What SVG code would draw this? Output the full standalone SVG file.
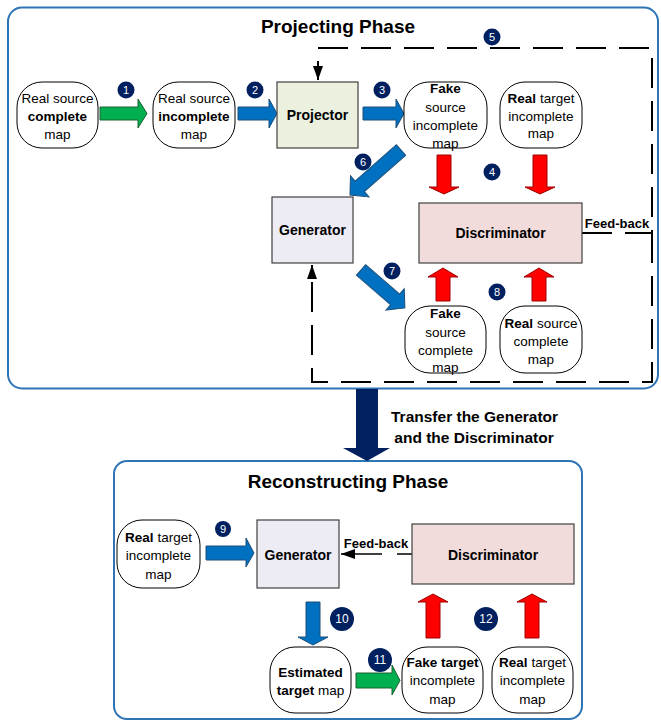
<svg xmlns="http://www.w3.org/2000/svg" width="661" height="721" viewBox="0 0 661 721">
<style>
text{font-family:"Liberation Sans",Arial,sans-serif;fill:#000}
.panel{fill:none;stroke:#2E75B6;stroke-width:2}
.title{font-size:19px;font-weight:bold;text-anchor:middle}
.node{fill:#fff;stroke:#000;stroke-width:1}
.nt{font-size:13.5px;text-anchor:middle}
.b{font-weight:bold}
.box{stroke:#404040;stroke-width:1.2}
.bl{font-size:14px;font-weight:bold;text-anchor:middle}
.blue{fill:#0070C0;stroke:#1F4E79;stroke-width:1}
.green{fill:#00B050;stroke:#1E5E32;stroke-width:1}
.red{fill:#FF0000;stroke:#A00000;stroke-width:1}
.badge{fill:#002060}
.bt{font-size:11px;fill:#fff;text-anchor:middle}
.bt2{font-size:12px;fill:#fff;text-anchor:middle}
.dash{fill:none;stroke:#000;stroke-width:2;stroke-dasharray:30 13}
.fb{font-size:13px;font-weight:bold;text-anchor:middle}
</style>
<defs>
<marker id="ah" markerUnits="userSpaceOnUse" markerWidth="14" markerHeight="10" refX="14" refY="5" orient="auto">
<path d="M0,0 L14,5 L0,10 Z" fill="#000"/>
</marker>
</defs>

<g id="projecting-phase">
<rect class="panel" x="8" y="7.5" width="650" height="381" rx="14"/>
<text class="title" x="338" y="33">Projecting Phase</text>
</g>

<g id="reconstructing-phase">
<rect class="panel" x="114" y="461" width="468" height="258" rx="13"/>
<text class="title" x="348" y="488">Reconstructing Phase</text>
</g>

<g id="connectors">
<path class="dash" d="M582 233 H652 V48 H318 V80" marker-end="url(#ah)"/>
<path class="dash" d="M652 233 V382 H312 V265" marker-end="url(#ah)"/>
<path fill="none" stroke="#000" stroke-width="1.5" stroke-dasharray="15 15 60" d="M412 554 H341" marker-end="url(#ah)"/>
<polygon class="green" points="100,107 138,107 138,99 147,113.5 138,128 138,120 100,120"/>
<polygon class="blue" points="238,107 269,107 269,99 277,113.5 269,128 269,120 238,120"/>
<polygon class="blue" points="363,107 396,107 396,99 404,113.5 396,128 396,120 363,120"/>
<polygon class="blue" transform="translate(401,150) rotate(138.6)" points="0,-7 55,-7 55,-14 68,0 55,14 55,7 0,7"/>
<polygon class="blue" transform="translate(361,270) rotate(40.8)" points="0,-7 45,-7 45,-14 58,0 45,14 45,7 0,7"/>
<polygon class="red" points="437,155 451,155 451,187 459,187 444,194 429,187 437,187"/>
<polygon class="red" points="533,155 547,155 547,187 555,187 540,194 525,187 533,187"/>
<polygon class="red" points="436,301 450,301 450,277 458,277 443,268 428,277 436,277"/>
<polygon class="red" points="532,301 546,301 546,277 554,277 539,268 524,277 532,277"/>
<polygon fill="#002060" points="356,389 378,389 378,448 390,448 367,461 343,448 356,448"/>
<polygon class="blue" points="206,546 246,546 246,538 254,553 246,567 246,560 206,560"/>
<polygon class="blue" points="306,602 320,602 320,637 328,637 313,645 298,637 306,637"/>
<polygon class="green" points="356,673 392,673 392,665 400,680.5 392,695 392,688 356,688"/>
<polygon class="red" points="426,638 440,638 440,602 448,602 433,594 418,602 426,602"/>
<polygon class="red" points="525,638 539,638 539,602 547,602 532,594 517,602 525,602"/>
</g>

<g id="labels">
<text class="fb" x="617" y="228">Feed-back</text>
<text class="fb" x="376" y="548">Feed-back</text>
<text class="fb" style="font-size:15.5px;text-anchor:start" x="391" y="422">Transfer the Generator</text>
<text class="fb" style="font-size:15.5px" x="474" y="443">and the Discriminator</text>
</g>

<g id="badges">
<circle class="badge" cx="126" cy="90" r="8.5"/><text class="bt" x="126" y="94">1</text>
<circle class="badge" cx="255" cy="90" r="8.5"/><text class="bt" x="255" y="94">2</text>
<circle class="badge" cx="382" cy="90" r="8.5"/><text class="bt" x="382" y="94">3</text>
<circle class="badge" cx="492" cy="172" r="8.5"/><text class="bt" x="492" y="176">4</text>
<circle class="badge" cx="492" cy="37" r="8.5"/><text class="bt" x="492" y="41">5</text>
<circle class="badge" cx="363" cy="162" r="8.5"/><text class="bt" x="363" y="166">6</text>
<circle class="badge" cx="392" cy="271" r="8.5"/><text class="bt" x="392" y="275">7</text>
<circle class="badge" cx="497" cy="292" r="8.5"/><text class="bt" x="497" y="296">8</text>
<circle class="badge" cx="223" cy="529" r="8"/><text class="bt" x="223" y="533">9</text>
<circle class="badge" cx="342" cy="619" r="12"/><text class="bt2" x="342" y="623">10</text>
<circle class="badge" cx="380" cy="660" r="12"/><text class="bt2" x="380" y="664">11</text>
<circle class="badge" cx="486" cy="619" r="12"/><text class="bt2" x="486" y="623">12</text>
</g>

<g id="real-source-complete-map">
<rect class="node" x="17" y="82" width="81" height="66" rx="25"/>
<text class="nt" x="57.5" y="103">Real source</text>
<text class="nt b" x="57.5" y="121">complete</text>
<text class="nt" x="57.5" y="139">map</text>
</g>

<g id="real-source-incomplete-map">
<rect class="node" x="153" y="82" width="82" height="66" rx="25"/>
<text class="nt" x="194" y="103">Real source</text>
<text class="nt b" x="194" y="121">incomplete</text>
<text class="nt" x="194" y="139">map</text>
</g>

<g id="projector">
<rect class="box" fill="#EBF1DE" x="277" y="82" width="81" height="66"/>
<text class="bl" x="317.5" y="120">Projector</text>
</g>

<g id="fake-source-incomplete-map">
<rect class="node" x="404" y="82" width="83" height="66" rx="25"/>
<text class="nt b" x="445.5" y="93">Fake</text>
<text class="nt" x="445.5" y="111.5">source</text>
<text class="nt" x="445.5" y="130">incomplete</text>
<text class="nt" x="445.5" y="148">map</text>
</g>

<g id="real-target-incomplete-map-top">
<rect class="node" x="500" y="82" width="82" height="66" rx="25"/>
<text class="nt" x="541" y="103"><tspan class="b">Real</tspan> target</text>
<text class="nt" x="541" y="121">incomplete</text>
<text class="nt" x="541" y="138">map</text>
</g>

<g id="generator-top">
<rect class="box" fill="#EDEBF3" x="272" y="197" width="81" height="66"/>
<text class="bl" x="312.5" y="235">Generator</text>
</g>

<g id="discriminator-top">
<rect class="box" fill="#F2DCDB" x="419" y="203" width="163" height="60"/>
<text class="bl" x="500.5" y="238">Discriminator</text>
</g>

<g id="fake-source-complete-map">
<rect class="node" x="405" y="306" width="81" height="67" rx="25"/>
<text class="nt b" x="445.5" y="318">Fake</text>
<text class="nt" x="445.5" y="336.5">source</text>
<text class="nt" x="445.5" y="355">complete</text>
<text class="nt" x="445.5" y="372">map</text>
</g>

<g id="real-source-complete-map-2">
<rect class="node" x="500" y="306" width="82" height="67" rx="25"/>
<text class="nt" x="541" y="328"><tspan class="b">Real</tspan> source</text>
<text class="nt" x="541" y="346">complete</text>
<text class="nt" x="541" y="364">map</text>
</g>

<g id="real-target-incomplete-map-bottom-left">
<rect class="node" x="117" y="520" width="83" height="68" rx="25"/>
<text class="nt" x="158.5" y="542"><tspan class="b">Real</tspan> target</text>
<text class="nt" x="158.5" y="560">incomplete</text>
<text class="nt" x="158.5" y="579">map</text>
</g>

<g id="generator-bottom">
<rect class="box" fill="#EDEBF3" x="257" y="520" width="82" height="68"/>
<text class="bl" x="298" y="560">Generator</text>
</g>

<g id="discriminator-bottom">
<rect class="box" fill="#F2DCDB" x="412" y="524" width="162" height="60"/>
<text class="bl" x="493" y="560">Discriminator</text>
</g>

<g id="estimated-target-map">
<rect class="node" x="270" y="647" width="81" height="66" rx="25"/>
<text class="nt b" x="310.5" y="677">Estimated</text>
<text class="nt" x="310.5" y="695"><tspan class="b">target</tspan> map</text>
</g>

<g id="fake-target-incomplete-map">
<rect class="node" x="402" y="647" width="81" height="66" rx="25"/>
<text class="nt b" x="442.5" y="667">Fake target</text>
<text class="nt" x="442.5" y="685">incomplete</text>
<text class="nt" x="442.5" y="704">map</text>
</g>

<g id="real-target-incomplete-map-bottom">
<rect class="node" x="492" y="647" width="81" height="66" rx="25"/>
<text class="nt" x="532.5" y="667"><tspan class="b">Real</tspan> target</text>
<text class="nt" x="532.5" y="685">incomplete</text>
<text class="nt" x="532.5" y="704">map</text>
</g>
</svg>
